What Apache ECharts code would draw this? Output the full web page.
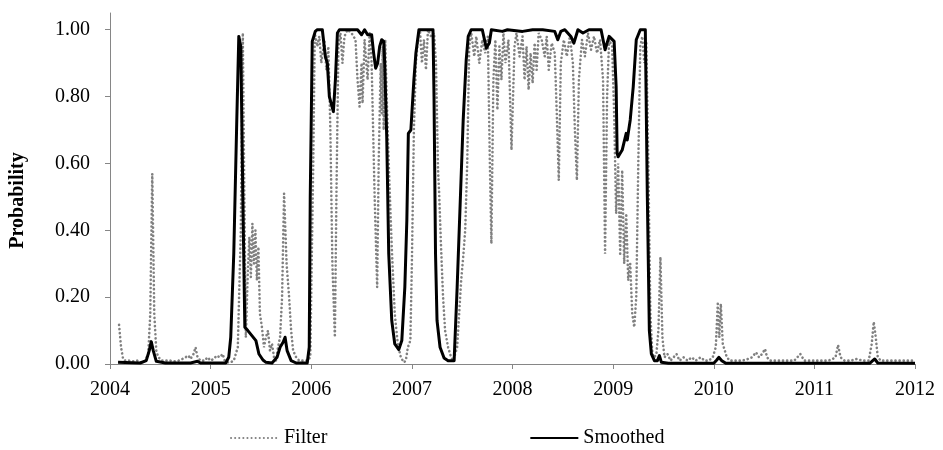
<!DOCTYPE html>
<html>
<head>
<meta charset="utf-8">
<script src="https://cdn.jsdelivr.net/npm/echarts@6/dist/echarts.min.js"></script>
<style>
  html, body { margin: 0; padding: 0; background: #fff; }
  #chart { width: 943px; height: 450px; }
</style>
</head>
<body>
<div id="chart"></div>
<script>
// tick labels
var yearTicks = [2004, 2005, 2006, 2007, 2008, 2009, 2010, 2011, 2012];
var probTicks = [0, 0.2, 0.4, 0.6, 0.8, 1.0];

// filtered probability
var filterYears = [
  2004.09, 2004.11, 2004.13, 2004.15, 2004.19, 2004.23, 2004.27, 2004.31, 2004.35, 2004.38,
  2004.40, 2004.42, 2004.44, 2004.46, 2004.48, 2004.52, 2004.56, 2004.60, 2004.64, 2004.68,
  2004.72, 2004.75, 2004.78, 2004.80, 2004.83, 2004.85, 2004.87, 2004.90, 2004.94, 2004.97,
  2005.00, 2005.03, 2005.06, 2005.09, 2005.12, 2005.14, 2005.17, 2005.20, 2005.23, 2005.27,
  2005.30, 2005.32, 2005.335, 2005.35, 2005.37, 2005.385, 2005.40, 2005.415, 2005.43, 2005.445,
  2005.46, 2005.475, 2005.49, 2005.51, 2005.53, 2005.55, 2005.57, 2005.59, 2005.61, 2005.63,
  2005.65, 2005.67, 2005.69, 2005.71, 2005.73, 2005.755, 2005.78, 2005.80, 2005.82, 2005.85,
  2005.88, 2005.92, 2005.96, 2005.99, 2006.02, 2006.035, 2006.06, 2006.08, 2006.10, 2006.13,
  2006.15, 2006.17, 2006.19, 2006.21, 2006.235, 2006.25, 2006.27, 2006.29, 2006.31, 2006.33,
  2006.36, 2006.40, 2006.44, 2006.46, 2006.48, 2006.50, 2006.51, 2006.53, 2006.56, 2006.58,
  2006.60, 2006.63, 2006.655, 2006.67, 2006.69, 2006.70, 2006.71, 2006.72, 2006.735, 2006.75,
  2006.77, 2006.80, 2006.83, 2006.86, 2006.89, 2006.92, 2006.94, 2006.96, 2006.985, 2007.00,
  2007.02, 2007.04, 2007.06, 2007.08, 2007.10, 2007.12, 2007.14, 2007.16, 2007.19, 2007.22,
  2007.24, 2007.26, 2007.27, 2007.29, 2007.31, 2007.33, 2007.36, 2007.39, 2007.41, 2007.43,
  2007.45, 2007.47, 2007.49, 2007.51, 2007.53, 2007.55, 2007.57, 2007.59, 2007.62, 2007.64,
  2007.67, 2007.70, 2007.73, 2007.755, 2007.775, 2007.79, 2007.81, 2007.83, 2007.85, 2007.87,
  2007.89, 2007.91, 2007.93, 2007.96, 2007.99, 2008.02, 2008.04, 2008.07, 2008.10, 2008.12,
  2008.14, 2008.16, 2008.18, 2008.20, 2008.22, 2008.24, 2008.26, 2008.29, 2008.32, 2008.34,
  2008.36, 2008.39, 2008.42, 2008.44, 2008.46, 2008.48, 2008.51, 2008.54, 2008.57, 2008.60,
  2008.62, 2008.64, 2008.66, 2008.69, 2008.72, 2008.75, 2008.78, 2008.81, 2008.84, 2008.87,
  2008.90, 2008.92, 2008.94, 2008.96, 2008.99, 2009.01, 2009.03, 2009.05, 2009.07, 2009.09,
  2009.11, 2009.13, 2009.15, 2009.17, 2009.19, 2009.21, 2009.23, 2009.25, 2009.27, 2009.29,
  2009.31, 2009.33, 2009.35, 2009.37, 2009.39, 2009.41, 2009.43, 2009.45, 2009.47, 2009.49,
  2009.51, 2009.54, 2009.57, 2009.60, 2009.63, 2009.66, 2009.70, 2009.74, 2009.78, 2009.82,
  2009.87, 2009.91, 2009.95, 2009.99, 2010.02, 2010.04, 2010.055, 2010.07, 2010.09, 2010.11,
  2010.13, 2010.16, 2010.22, 2010.28, 2010.34, 2010.38, 2010.42, 2010.45, 2010.48, 2010.51,
  2010.53, 2010.56, 2010.62, 2010.68, 2010.74, 2010.80, 2010.86, 2010.90, 2010.96, 2011.02,
  2011.08, 2011.14, 2011.18, 2011.21, 2011.235, 2011.26, 2011.30, 2011.36, 2011.42, 2011.48,
  2011.54, 2011.57, 2011.59, 2011.61, 2011.63, 2011.66, 2011.72, 2011.78, 2011.84, 2011.90,
  2011.96, 2012.00
];
var filterProb = [
  0.117, 0.05, 0.015, 0.01, 0.01, 0.008, 0.01, 0.005, 0.01, 0.03,
  0.15, 0.569, 0.15, 0.04, 0.02, 0.01, 0.01, 0.01, 0.008, 0.01,
  0.015, 0.02, 0.025, 0.015, 0.03, 0.05, 0.02, 0.01, 0.01, 0.02,
  0.01, 0.015, 0.025, 0.02, 0.03, 0.01, 0.005, 0.005, 0.01, 0.05,
  0.40, 0.99, 0.5, 0.08, 0.28, 0.38, 0.26, 0.42, 0.30, 0.40,
  0.25, 0.35, 0.15, 0.11, 0.05, 0.08, 0.10, 0.04, 0.06, 0.02,
  0.01, 0.05, 0.08, 0.2, 0.51, 0.3, 0.2, 0.10, 0.04, 0.02,
  0.01, 0.01, 0.01, 0.02, 0.6, 0.99, 0.95, 0.98, 0.9, 0.97,
  0.88, 0.95, 0.7, 0.3, 0.08, 0.5, 0.95, 0.99, 0.9, 0.98,
  1.0, 0.99, 0.97, 0.85, 0.77, 0.9, 0.78, 0.97, 0.85, 0.99,
  0.9, 0.5, 0.23, 0.6, 0.9, 0.75, 0.95, 0.7, 0.97, 0.8,
  0.6, 0.35, 0.15, 0.06, 0.02, 0.005, 0.01, 0.05, 0.07, 0.3,
  0.7, 0.9, 0.97, 1.0, 0.9, 0.97, 0.88, 1.0, 0.98, 0.99,
  0.9, 0.58, 0.52, 0.35, 0.2, 0.1, 0.05, 0.02, 0.01, 0.03,
  0.05, 0.15, 0.25, 0.32, 0.4, 0.6, 0.95, 0.99, 0.92, 0.98,
  0.9, 0.97, 0.93, 0.98, 0.6, 0.36, 0.85, 0.97, 0.76, 0.95,
  0.85, 0.99, 0.9, 0.97, 0.64, 0.95, 0.99, 0.92, 0.98, 0.85,
  0.95, 0.82, 0.93, 0.84, 0.96, 0.88, 0.99, 0.97, 0.92, 0.98,
  0.88, 0.96, 0.93, 0.75, 0.55, 0.9, 0.97, 0.92, 0.98, 0.9,
  0.7, 0.55, 0.85, 0.97, 0.92, 0.99, 0.94, 0.98, 0.93, 0.97,
  0.85, 0.33, 0.8, 0.97, 0.95, 0.75, 0.45, 0.6, 0.33, 0.58,
  0.3, 0.45, 0.25, 0.3, 0.15, 0.11, 0.2, 0.6, 0.95, 0.98,
  0.9, 0.96, 0.6, 0.15, 0.03, 0.02, 0.03, 0.1, 0.32, 0.08,
  0.02, 0.03, 0.01, 0.02, 0.03, 0.01, 0.02, 0.01, 0.02, 0.01,
  0.02, 0.01, 0.01, 0.02, 0.05, 0.18, 0.08, 0.18, 0.06, 0.04,
  0.02, 0.01, 0.01, 0.01, 0.015, 0.02, 0.035, 0.02, 0.03, 0.045,
  0.02, 0.01, 0.01, 0.01, 0.01, 0.01, 0.03, 0.01, 0.01, 0.01,
  0.01, 0.01, 0.015, 0.02, 0.057, 0.02, 0.01, 0.01, 0.015, 0.01,
  0.01, 0.06, 0.126, 0.08, 0.02, 0.01, 0.01, 0.01, 0.01, 0.01,
  0.01, 0.01
];

// smoothed probability
var smoothYears = [
  2004.08, 2004.30, 2004.36, 2004.39, 2004.41, 2004.43, 2004.46, 2004.55, 2004.80, 2004.87,
  2004.90, 2005.15, 2005.18, 2005.20, 2005.23, 2005.26, 2005.28, 2005.30, 2005.32, 2005.34,
  2005.37, 2005.41, 2005.45, 2005.48, 2005.52, 2005.55, 2005.61, 2005.66, 2005.69, 2005.72,
  2005.74, 2005.76, 2005.80, 2005.85, 2005.96, 2005.98, 2005.99, 2006.01, 2006.04, 2006.06,
  2006.11, 2006.14, 2006.16, 2006.18, 2006.22, 2006.24, 2006.26, 2006.28, 2006.46, 2006.50,
  2006.53, 2006.56, 2006.60, 2006.62, 2006.64, 2006.66, 2006.68, 2006.70, 2006.72, 2006.73,
  2006.75, 2006.77, 2006.80, 2006.83, 2006.87, 2006.90, 2006.93, 2006.95, 2006.965, 2006.99,
  2007.02, 2007.04, 2007.07, 2007.21, 2007.22, 2007.235, 2007.25, 2007.28, 2007.32, 2007.36,
  2007.42, 2007.45, 2007.48, 2007.51, 2007.54, 2007.56, 2007.59, 2007.70, 2007.74, 2007.77,
  2007.79, 2007.90, 2007.95, 2008.10, 2008.20, 2008.30, 2008.42, 2008.45, 2008.48, 2008.52,
  2008.58, 2008.61, 2008.65, 2008.70, 2008.76, 2008.88, 2008.92, 2008.96, 2009.01, 2009.02,
  2009.03, 2009.04, 2009.05, 2009.09, 2009.13, 2009.14, 2009.17, 2009.20, 2009.23, 2009.27,
  2009.32, 2009.34, 2009.36, 2009.38, 2009.41, 2009.44, 2009.46, 2009.48, 2009.55, 2010.00,
  2010.03, 2010.05, 2010.08, 2010.12, 2011.55, 2011.58, 2011.60, 2011.63, 2012.00
];
var smoothProb = [
  0.005, 0.003, 0.01, 0.04, 0.067, 0.04, 0.008, 0.003, 0.003, 0.008,
  0.003, 0.003, 0.02, 0.08, 0.33, 0.73, 0.98, 0.95, 0.50, 0.11,
  0.10, 0.085, 0.07, 0.03, 0.012, 0.005, 0.003, 0.02, 0.05, 0.065,
  0.08, 0.04, 0.01, 0.003, 0.003, 0.05, 0.5, 0.965, 0.995, 1.0,
  1.0, 0.92, 0.90, 0.80, 0.755, 0.85, 0.99, 1.0, 1.0, 0.985,
  1.0, 0.985, 0.985, 0.93, 0.885, 0.9, 0.95, 0.97, 0.965, 0.90,
  0.68, 0.33, 0.13, 0.06, 0.043, 0.07, 0.23, 0.43, 0.69, 0.70,
  0.85, 0.93, 1.0, 1.0, 0.8, 0.33, 0.13, 0.05, 0.018, 0.01,
  0.01, 0.23, 0.48, 0.73, 0.91, 0.98, 1.0, 1.0, 0.945, 0.96,
  1.0, 0.995, 1.0, 0.995, 1.0, 1.0, 0.995, 0.97, 0.995, 1.0,
  0.98, 0.96, 1.0, 0.99, 1.0, 1.0, 0.94, 0.98, 0.965, 0.96,
  0.83, 0.63, 0.62, 0.64, 0.69, 0.67, 0.73, 0.83, 0.97, 1.0,
  1.0, 0.5, 0.1, 0.03, 0.01, 0.01, 0.025, 0.005, 0.002, 0.002,
  0.012, 0.02, 0.01, 0.002, 0.002, 0.01, 0.015, 0.003, 0.002
];

var serif = '"Liberation Serif", "Times New Roman", serif';

var chart = echarts.init(document.getElementById('chart'));
chart.setOption({
  animation: false,
  backgroundColor: '#fff',
  grid: { left: 107, right: 28, top: 13, bottom: 86 },
  legend: {
    data: ['Filter', 'Smoothed'],
    left: 225,
    top: 423,
    itemWidth: 48,
    itemHeight: 14,
    itemGap: 202,
    itemStyle: { opacity: 0 },
    textStyle: { fontFamily: serif, fontSize: 20, color: '#000' }
  },
  xAxis: {
    type: 'value',
    min: 2004,
    max: 2012,
    interval: 1,
    splitLine: { show: false },
    axisLine: { lineStyle: { color: '#868686', width: 1 } },
    axisTick: { show: true, length: 5, lineStyle: { color: '#868686' }, customValues: yearTicks },
    axisLabel: {
      customValues: yearTicks,
      margin: 16,
      fontFamily: serif, fontSize: 20, color: '#000',
      formatter: function (v) { return String(v); }
    }
  },
  yAxis: {
    type: 'value',
    min: 0,
    max: 1.05,
    name: 'Probability',
    nameLocation: 'middle',
    nameGap: 82,
    nameTextStyle: {
      fontFamily: serif, fontSize: 20, fontWeight: 'bold', color: '#000',
      padding: [0, 24, 0, 0]
    },
    splitLine: { show: false },
    axisLine: { show: true, lineStyle: { color: '#868686', width: 1 } },
    axisTick: { show: true, length: 5, lineStyle: { color: '#868686' }, customValues: probTicks },
    axisLabel: {
      customValues: probTicks,
      margin: 20,
      fontFamily: serif, fontSize: 20, color: '#000',
      formatter: function (v) { return v > 1.001 ? '' : v.toFixed(2); }
    }
  },
  series: [
    {
      name: 'Filter',
      type: 'line',
      symbol: 'none',
      data: filterYears.map(function (t, i) { return [t, filterProb[i]]; }),
      lineStyle: { color: '#808080', width: 2.6, type: [0.1, 4], cap: 'round' },
      itemStyle: { color: '#808080' },
      z: 2
    },
    {
      name: 'Smoothed',
      type: 'line',
      symbol: 'none',
      data: smoothYears.map(function (t, i) { return [t, smoothProb[i]]; }),
      lineStyle: { color: '#000', width: 3, join: 'round' },
      itemStyle: { color: '#000' },
      z: 3
    }
  ]
});
</script>
</body>
</html>
